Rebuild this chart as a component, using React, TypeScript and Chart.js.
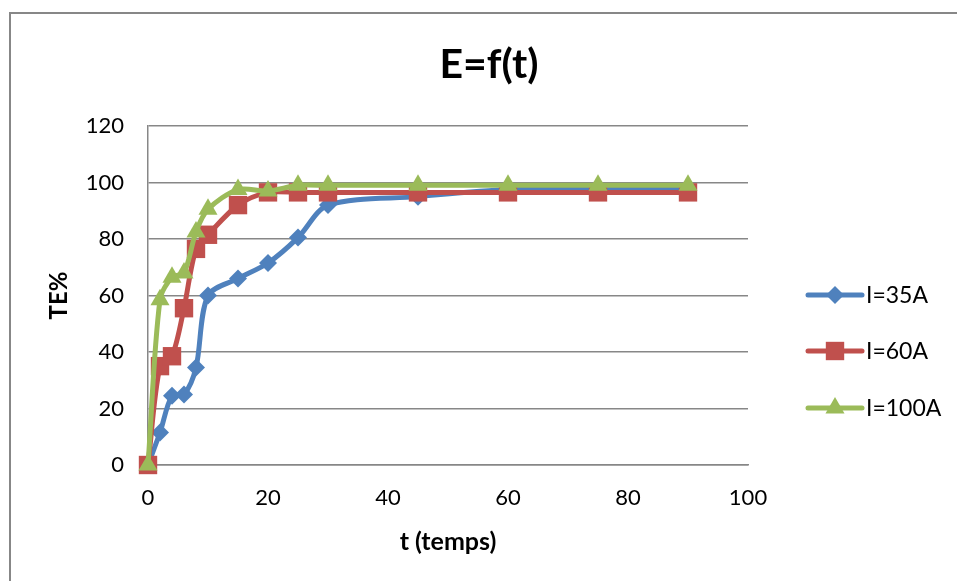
import React, { useEffect, useRef } from "react";
import { Chart, registerables } from "chart.js";

Chart.register(...registerables);

const chartTitle = "E=f(t)";
const xTitle = "t (temps)";
const yTitle = "TE%";

const times = [0, 2, 4, 6, 8, 10, 15, 20, 25, 30, 45, 60, 75, 90];
const seriesI35 = [0, 11.5, 24.5, 25, 34.5, 60, 66, 71.5, 80.5, 92, 95, 97.5, 97.5, 97.5];
const seriesI60 = [0, 35, 38.5, 55.5, 76.5, 81.5, 92, 96.5, 96.5, 96.5, 96.5, 96.5, 96.5, 96.5];
const seriesI100 = [0, 58.5, 66.5, 68, 82.5, 90.5, 97.5, 97, 99, 99, 99, 99, 99, 99];

const seriesLabels = ["I=35A", "I=60A", "I=100A"];
const seriesColors = ["#4F81BD", "#C0504D", "#9BBB59"];
const seriesStyles = ["rectRot", "rect", "triangle"];
const seriesRadii = [9, 13, 11];

const xMin = 0, xMax = 100, xStep = 20;
const yMin = 0, yMax = 120, yStep = 20;

const FONT = "Lato, 'Open Sans', 'Liberation Sans', sans-serif";

function drawMarker(ctx: CanvasRenderingContext2D, style: string, x: number, y: number, r: number) {
  ctx.beginPath();
  if (style === "rectRot") {
    ctx.moveTo(x, y - r);
    ctx.lineTo(x + r, y);
    ctx.lineTo(x, y + r);
    ctx.lineTo(x - r, y);
  } else if (style === "rect") {
    const s = Math.SQRT1_2 * r;
    ctx.rect(x - s, y - s, 2 * s, 2 * s);
  } else {
    for (let k = 0; k < 3; k++) {
      const a = -Math.PI / 2 + (k * 2 * Math.PI) / 3;
      const px = x + Math.cos(a) * r;
      const py = y + Math.sin(a) * r;
      if (k === 0) ctx.moveTo(px, py);
      else ctx.lineTo(px, py);
    }
  }
  ctx.closePath();
  ctx.fill();
}

const decorPlugin = {
  id: "decor",
  beforeDraw(chart: any) {
    const ctx = chart.ctx as CanvasRenderingContext2D;
    ctx.save();
    ctx.fillStyle = "#ffffff";
    ctx.fillRect(0, 0, chart.width, chart.height);
    ctx.strokeStyle = "#878787";
    ctx.lineWidth = 2;
    ctx.strokeRect(10, 13, chart.width + 100, chart.height + 100);
    ctx.restore();
  },
  afterDraw(chart: any) {
    const ctx = chart.ctx as CanvasRenderingContext2D;
    ctx.save();
    // Title
    ctx.fillStyle = "#000000";
    ctx.font = `bold 41px ${FONT}`;
    ctx.textAlign = "center";
    ctx.textBaseline = "alphabetic";
    ctx.fillText(chartTitle, 489, 78);
    // Legend
    const lx0 = 808, lx1 = 862, tx = 866;
    const ys = [295, 351, 408];
    chart.data.datasets.forEach((ds: any, i: number) => {
      const y = ys[i];
      ctx.strokeStyle = ds.borderColor;
      ctx.lineWidth = 5;
      ctx.lineCap = "round";
      ctx.beginPath();
      ctx.moveTo(lx0, y);
      ctx.lineTo(lx1, y);
      ctx.stroke();
      ctx.fillStyle = ds.backgroundColor;
      drawMarker(ctx, ds.pointStyle, (lx0 + lx1) / 2, y, ds.pointRadius);
      ctx.fillStyle = "#000000";
      ctx.font = `23px ${FONT}`;
      ctx.textAlign = "left";
      ctx.textBaseline = "middle";
      ctx.fillText(ds.label, tx, y + 1);
    });
    ctx.restore();
  },
};

export default function App() {
  const canvasRef = useRef<HTMLCanvasElement | null>(null);

  useEffect(() => {
    if (!canvasRef.current) return;
    const allSeries = [seriesI35, seriesI60, seriesI100];
    const datasets = allSeries.map((vals, i) => ({
      label: seriesLabels[i],
      data: times.map((t, j) => ({ x: t, y: vals[j] })),
      borderColor: seriesColors[i],
      backgroundColor: seriesColors[i],
      pointStyle: seriesStyles[i],
      pointRadius: seriesRadii[i],
      pointBorderWidth: 0,
      pointBorderColor: seriesColors[i],
      borderWidth: 5,
      tension: 0.3,
      fill: false,
      clip: false,
      order: 3 - i,
    }));

    const chart = new Chart(canvasRef.current, {
      type: "line",
      data: { datasets },
      plugins: [decorPlugin],
      options: {
        animation: false,
        responsive: false,
        devicePixelRatio: 1,
        layout: { padding: { top: 126, right: 209, bottom: 0, left: 0 } },
        plugins: {
          legend: { display: false },
          title: { display: false },
          tooltip: { enabled: false },
        },
        scales: {
          x: {
            type: "linear",
            min: xMin,
            max: xMax,
            afterFit: (s: any) => {
              s.height = 116;
            },
            ticks: {
              stepSize: xStep,
              padding: 20,
              color: "#000000",
              font: { family: FONT, size: 22 },
            },
            grid: { display: false, drawTicks: false },
            border: { display: true, color: "#878787", width: 1.5 },
            title: {
              display: true,
              text: xTitle,
              color: "#000000",
              font: { family: FONT, size: 25, weight: "bold" },
              padding: { top: 0, bottom: 24 },
            },
          },
          y: {
            type: "linear",
            min: yMin,
            max: yMax,
            afterFit: (s: any) => {
              s.width = 148;
            },
            ticks: {
              stepSize: yStep,
              padding: 24,
              color: "#000000",
              font: { family: FONT, size: 22 },
            },
            grid: { color: "#878787", lineWidth: 1.5, drawTicks: false },
            border: { display: true, color: "#878787", width: 1.5 },
            title: {
              display: true,
              text: yTitle,
              color: "#000000",
              font: { family: FONT, size: 24, weight: "bold" },
              padding: { top: 45, bottom: 0 },
            },
          },
        },
      } as any,
    });
    return () => chart.destroy();
  }, []);

  return (
    <div style={{ position: "absolute", left: 0, top: 0, width: 957, height: 581, background: "#fff" }}>
      <canvas ref={canvasRef} width={957} height={581} style={{ display: "block", width: 957, height: 581 }} />
    </div>
  );
}
